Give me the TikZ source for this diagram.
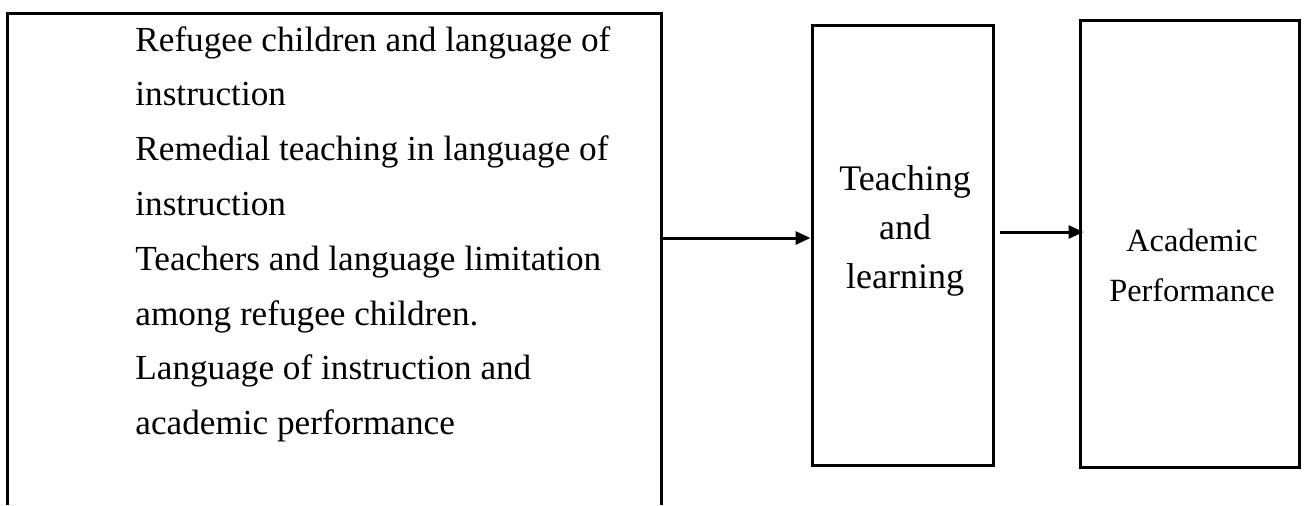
\documentclass[tikz,border=0pt]{standalone}
\usepackage{fontspec}
\setmainfont{Liberation Serif}
\usetikzlibrary{arrows.meta}
\begin{document}
\begin{tikzpicture}[x=0.5pt,y=-0.5pt,
  stepbox/.style={draw=black, line width=1.5pt, inner sep=0pt},
  flow/.style={draw=black, line width=1.5pt, -{Triangle[length=7.5pt,width=6.5pt]}},
  leftitem/.style={anchor=base west, inner sep=0pt, font=\fontsize{17.6}{21}\selectfont},
  miditem/.style={anchor=base, inner sep=0pt, font=\fontsize{18}{21}\selectfont},
  rightitem/.style={anchor=base, inner sep=0pt, font=\fontsize{16.2}{19}\selectfont}]
\useasboundingbox (0,0) rectangle (1305,505);

% open-bottom frame holding the list of factors
\node[inner sep=0pt, minimum width=326.5pt, minimum height=245.5pt] (factors) at (334.5,259.5) {};
\draw[line width=1.5pt] (factors.south west) -- (factors.north west)
  -- (factors.north east) -- (factors.south east);

\node[leftitem] (f1) at (135,51)    {Refugee children and language of};
\node[leftitem] (f2) at (135,105.8) {instruction};
\node[leftitem] (f3) at (135,160.6) {Remedial teaching in language of};
\node[leftitem] (f4) at (135,215.4) {instruction};
\node[leftitem] (f5) at (135,270.2) {Teachers and language limitation};
\node[leftitem] (f6) at (135,325)   {among refugee children.};
\node[leftitem] (f7) at (135,379.8) {Language of instruction and};
\node[leftitem] (f8) at (135,434.6) {academic performance};

% middle box
\node[stepbox, minimum width=90.5pt, minimum height=220pt] (teach) at (902.5,245) {};
\node[miditem] (t1) at (905,190) {Teaching};
\node[miditem] (t2) at (905,239) {and};
\node[miditem] (t3) at (905,288) {learning};

% right box
\node[stepbox, minimum width=109.5pt, minimum height=223.5pt] (perf) at (1189.5,243.5) {};
\node[rightitem] (p1) at (1192,251) {Academic};
\node[rightitem] (p2) at (1192,301) {Performance};

% connectors
\draw[flow] (factors.east |- 0,238) -- (teach.west |- 0,238);
\draw[flow, shorten >=-2.5pt] ([xshift=2.5pt]teach.east |- 0,232) -- (perf.west |- 0,232);
\end{tikzpicture}
\end{document}
